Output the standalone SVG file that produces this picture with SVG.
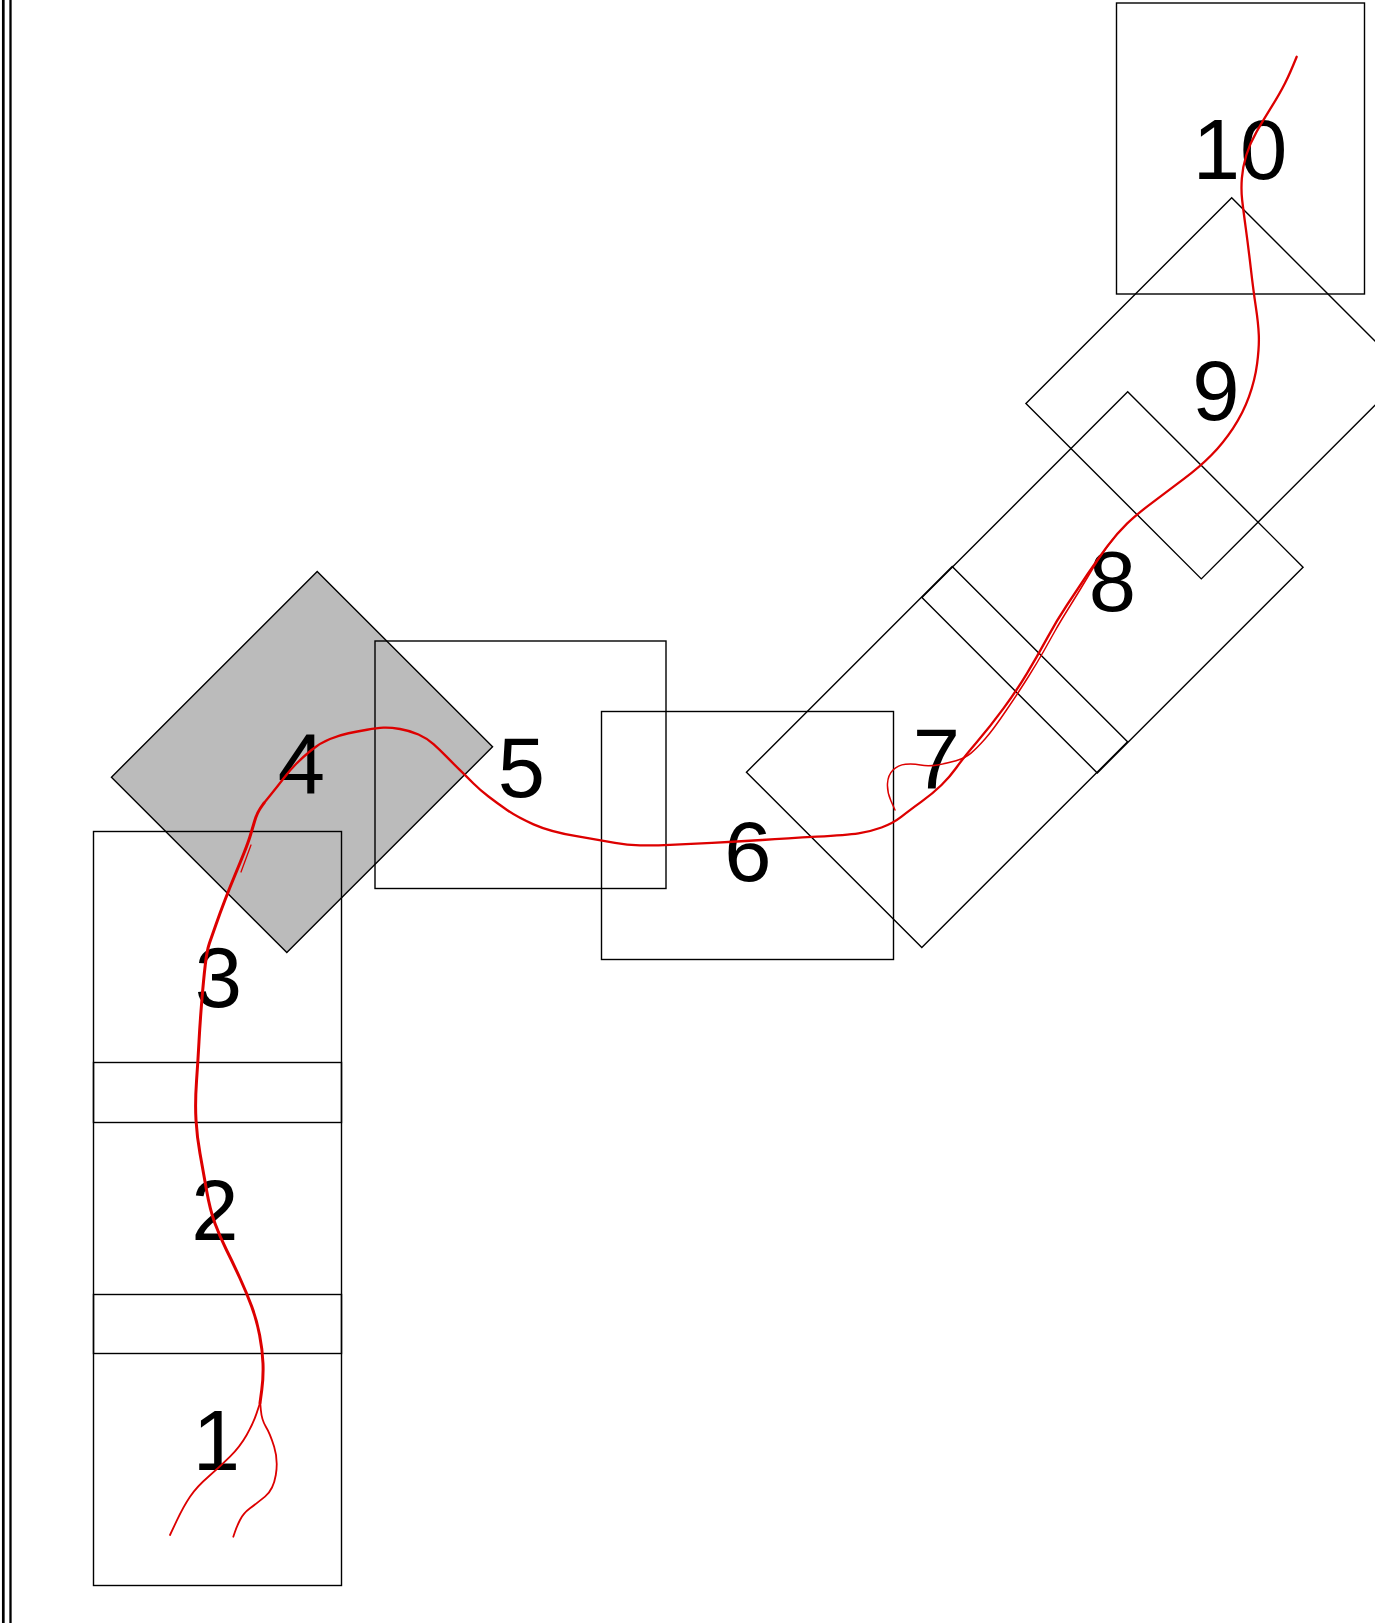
<svg xmlns="http://www.w3.org/2000/svg" width="1375" height="1623" viewBox="0 0 1375 1623">
<style>
.n{fill:none;stroke:#000;stroke-width:1.4}
.g{fill:#bbbbbb;stroke:#000;stroke-width:1.4}
.t{font-family:"Liberation Sans",Arial,sans-serif;font-size:85px;fill:#000;text-anchor:middle}
.c{fill:none;stroke:#dd0000;stroke-linecap:round;stroke-linejoin:round}
</style>
<rect width="1375" height="1623" fill="#fff"/>
<g id="border">
<line x1="3.3" y1="0" x2="3.3" y2="1623" stroke="#000" stroke-width="2.7"/>
<line x1="10.5" y1="0" x2="10.5" y2="1623" stroke="#000" stroke-width="2.3"/>
</g>
<g id="node4"><rect class="g" x="178" y="616.5" width="248" height="291" transform="rotate(45 302 762)"/><text class="t" x="301.5" y="793">4</text></g>
<g id="node1"><rect class="n" x="93.5" y="1294.5" width="248" height="291"/><text class="t" x="216.5" y="1470">1</text></g>
<g id="node2"><rect class="n" x="93.5" y="1062.5" width="248" height="291"/><text class="t" x="215" y="1239.5">2</text></g>
<g id="node3"><rect class="n" x="93.5" y="831.5" width="248" height="291"/><text class="t" x="218.5" y="1007">3</text></g>
<g id="node5"><rect class="n" x="375" y="641" width="291" height="247.5"/><text class="t" x="521.5" y="796.5">5</text></g>
<g id="node6"><rect class="n" x="601.5" y="711.5" width="292" height="248"/><text class="t" x="748" y="881">6</text></g>
<g id="node7"><rect class="n" x="813" y="611.5" width="248" height="291" transform="rotate(45 937 757)"/><text class="t" x="936.5" y="788">7</text></g>
<g id="node8"><rect class="n" x="988.5" y="436.9" width="248" height="291" transform="rotate(45 1112.5 582.4)"/><text class="t" x="1112.5" y="611">8</text></g>
<g id="node9"><rect class="n" x="1092.5" y="242.8" width="248" height="291" transform="rotate(45 1216.5 388.3)"/><text class="t" x="1216" y="419.5">9</text></g>
<g id="node10"><rect class="n" x="1116.5" y="3" width="248" height="291"/><text class="t" x="1240" y="179">10</text></g>
<g id="connectors">
<path class="c" stroke-width="3" d="M260,1403 L261.75,1390 Q263.5,1377 263,1363.5 Q262.5,1350 259.6,1335 Q256.7,1320 251.7,1306.5 Q246.7,1293 239.85,1278 Q233,1263 226.5,1250 Q220,1237 215,1223.5 Q210,1210 206.5,1190 Q203,1170 200,1153.5 Q197,1137 196,1120 Q195,1103 196.5,1081.5 Q198,1060 199,1041.5 Q200,1023 201.75,1001.5 Q203.5,980 205.25,965 Q207,950 209.5,943 Q212,936 216,924.5 Q220,913 225,900 Q230,887 235,875 Q240,863 244,853 Q248,843 250,836.5 Q252,830 254.5,821.5 Q257,813 260.5,808 L264,803"/>
<path class="c" stroke-width="1.3" d="M251,845 L241,872"/>
<path class="c" stroke-width="2.3" d="M264,803 L270.5,795 Q277,787 283.5,778.5 Q290,770 296.5,763.5 Q303,757 311.5,750 Q320,743 330,739 Q340,735 348.5,733.25 Q357,731.5 367,729.75 Q377,728 383.5,727.65 Q390,727.3 400,729 Q410,730.7 418.5,734.5 Q427,738.3 433.5,744.15 Q440,750 446.5,756.65 Q453,763.3 460,770.15 Q467,777 473.5,783.5 Q480,790 488.5,796.5 Q497,803 507,810 Q517,817 533.5,824.35 Q550,831.7 576.5,836.2 Q603,840.7 615,842.85 Q627,845 640,845.35 Q653,845.7 670,844.85 Q687,844 712,842.85 Q737,841.7 762,840 Q787,838.3 817,836.65 Q847,835 858.5,833.35 Q870,831.7 881.5,827.5 Q893,823.3 901.5,816.65 Q910,810 921.5,801.65 Q933,793.3 941.5,785 Q950,776.7 956.5,767.5 Q963,758.3 976.5,742.5 Q990,726.7 1003.5,708.35 Q1017,690 1027,673.35 Q1037,656.7 1047,638.35 Q1057,620 1067,605 Q1077,590 1087,575 Q1097,560 1107,546.65 Q1117,533.3 1127,523.65 Q1137,514 1152,502.85 Q1167,491.7 1183.5,479.2 Q1200,466.7 1211.5,455 Q1223,443.3 1233,428.3 Q1243,413.3 1249,396.65 Q1255,380 1257.15,363.35 Q1259.3,346.7 1258.8,335 Q1258.3,323.3 1255.8,306.65 Q1253.3,290 1250.8,268.35 Q1248.3,246.7 1245.8,228.35 Q1243.3,210 1242.15,200 Q1241,190 1241.85,178.35 Q1242.7,166.7 1246.35,155 Q1250,143.3 1256.65,131.65 Q1263.3,120 1271.65,106.65 Q1280,93.3 1285,83.3 Q1290,73.3 1296.7,56.7"/>
<path class="c" stroke-width="1.8" d="M260,1403 L256.65,1413.15 Q253.3,1423.3 246.65,1435 Q240,1446.7 230,1456.7 Q220,1466.7 208.35,1476.7 Q196.7,1486.7 190,1496.7 Q183.3,1506.7 176.65,1520.85 L170,1535"/>
<path class="c" stroke-width="1.8" d="M260,1400 L260.85,1410 Q261.7,1420 265.85,1426.65 Q270,1433.3 274.15,1446.65 Q278.3,1460 275.8,1475 Q273.3,1490 265,1496.65 Q256.7,1503.3 250,1508.3 Q243.3,1513.3 240,1520 Q236.7,1526.7 235,1531.7 L233.3,1536.7"/>
<path class="c" stroke-width="1.5" d="M895,810 L891,801 Q887,792 887.5,783.5 Q888,775 893,770 Q898,765 905.5,764.25 Q913,763.5 920.5,765 Q928,766.5 937.5,764.9 Q947,763.3 956,760.8 Q965,758.3 971,753.15 Q977,748 985,739 Q993,730 1006.5,710 Q1020,690 1028.5,676.5 Q1037,663 1043.5,651.5 Q1050,640 1055,631 Q1060,622 1070,606 Q1080,590 1088,576.5 Q1096,563 1101.5,555 Q1107,547 1110.5,542.5 L1114,538"/>
</g>
</svg>
